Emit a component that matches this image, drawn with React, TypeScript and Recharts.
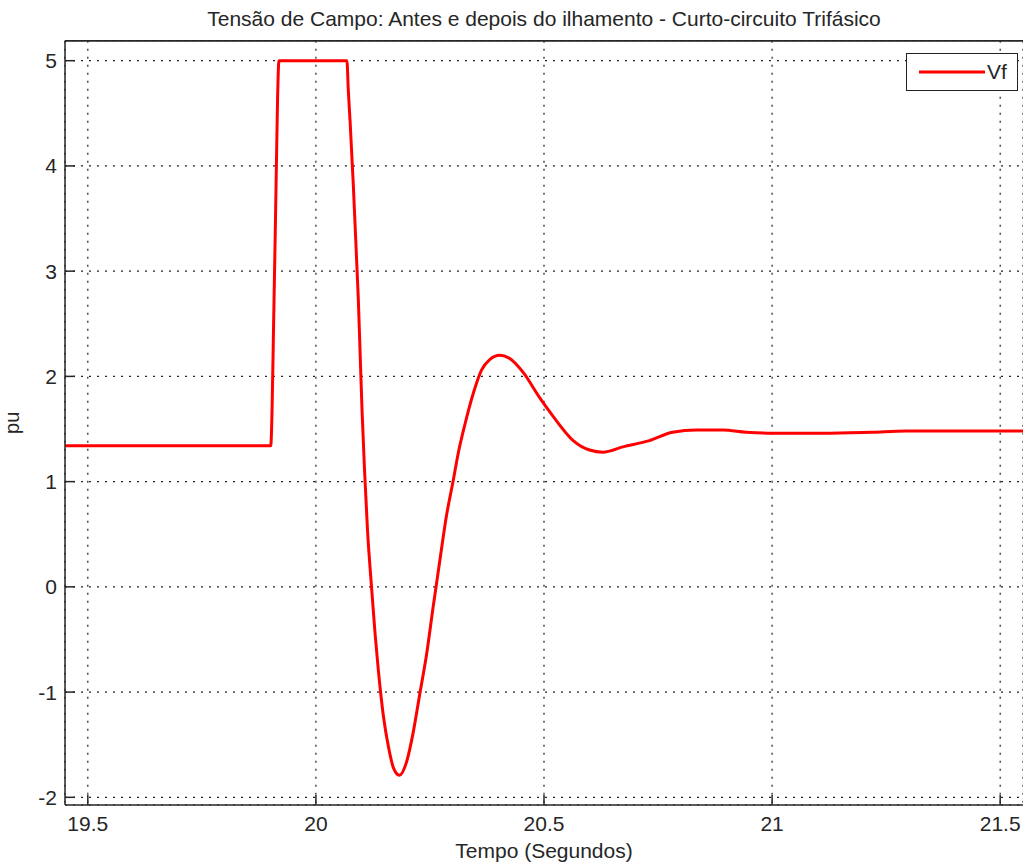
import { LineChart, Line, XAxis, YAxis, CartesianGrid, Label, ReferenceLine } from 'recharts';

const times = [
  19.45, 19.901, 19.904, 19.907, 19.91, 19.913, 19.916, 19.919, 20.068, 20.071,
  20.075, 20.082, 20.0895, 20.093, 20.0967, 20.1011, 20.1066, 20.1131, 20.1219, 20.1296,
  20.1368, 20.148, 20.159, 20.17, 20.183, 20.199, 20.213, 20.228, 20.243, 20.257,
  20.272, 20.286, 20.301, 20.312, 20.327, 20.345, 20.363, 20.381, 20.403, 20.425,
  20.454, 20.49, 20.52, 20.564, 20.6, 20.629, 20.673, 20.731, 20.782, 20.834,
  20.892, 20.943, 21.001, 21.111, 21.22, 21.293, 21.55,
];

const vf = [
  1.34, 1.34, 1.7, 2.43, 3.15, 3.9, 4.64, 5.0, 5.0, 4.72,
  4.42, 3.82, 3.08, 2.73, 2.25, 1.68, 1.11, 0.54, 0.0, -0.44,
  -0.79, -1.23, -1.52, -1.72, -1.79, -1.66, -1.39, -1.01, -0.63, -0.19,
  0.26, 0.67, 1.01, 1.27, 1.55, 1.84, 2.06, 2.16, 2.2, 2.17,
  2.04, 1.8, 1.62, 1.39, 1.3, 1.28, 1.33, 1.39, 1.47, 1.49,
  1.49, 1.47, 1.46, 1.46, 1.47, 1.48, 1.48,
];

const xTicks = [19.5, 20, 20.5, 21, 21.5];
const yTicks = [-2, -1, 0, 1, 2, 3, 4, 5];

const data = times.map((t, i) => ({ t, Vf: vf[i] }));

const ink = '#262626';
const font = '"Liberation Sans", Arial, sans-serif';

function LegendBox() {
  return (
    <div
      style={{
        position: 'absolute',
        left: 906,
        top: 53,
        width: 112,
        height: 38,
        boxSizing: 'border-box',
        border: '1.5px solid #222',
        background: '#fff',
        display: 'flex',
        alignItems: 'center',
        fontFamily: font,
        fontSize: 21,
        color: ink,
      }}
    >
      <svg width={80} height={10}>
        <line x1={12} y1={5} x2={78} y2={5} stroke="#ff0000" strokeWidth={3} />
      </svg>
      <span>Vf</span>
    </div>
  );
}

export default function App() {
  return (
    <div style={{ position: 'absolute', left: 0, top: 0, width: 1023, height: 863, fontFamily: font }}>
      <LineChart width={1023} height={863} data={data} margin={{ top: 39.7, right: 0, bottom: 0, left: 0 }}>
        <CartesianGrid stroke="#222" strokeDasharray="2 6" strokeWidth={1.2} />
        <XAxis
          dataKey="t"
          type="number"
          domain={[19.45, 21.55]}
          allowDataOverflow
          ticks={xTicks}
          height={58}
          tickSize={-10}
          tickMargin={21}
          stroke={ink}
          strokeWidth={1.5}
          tick={{ fill: ink, fontSize: 21, fontFamily: font }}
        >
          <Label value="Tempo (Segundos)" position="insideBottom" offset={5} fill={ink} fontSize={21} fontFamily={font} />
        </XAxis>
        <XAxis
          xAxisId="top"
          dataKey="t"
          type="number"
          orientation="top"
          domain={[19.45, 21.55]}
          allowDataOverflow
          ticks={xTicks}
          height={1}
          tickSize={-10}
          tick={false}
          stroke={ink}
          strokeWidth={1.5}
        >
          <Label
            value="Tensão de Campo: Antes e depois do ilhamento - Curto-circuito Trifásico"
            position="top"
            offset={14}
            fill={ink}
            fontSize={21}
            fontFamily={font}
          />
        </XAxis>
        <YAxis
          type="number"
          domain={[-2.073, 5.19]}
          allowDataOverflow
          ticks={yTicks}
          width={65}
          tickSize={-10}
          tickMargin={18}
          stroke={ink}
          strokeWidth={1.5}
          tick={{ fill: ink, fontSize: 21, fontFamily: font }}
        >
          <Label value="pu" angle={-90} position="insideLeft" offset={12} fill={ink} fontSize={20} fontFamily={font} style={{ textAnchor: 'middle' }} />
        </YAxis>
        <ReferenceLine y={5.19} stroke={ink} strokeWidth={1.5} ifOverflow="visible" />
        <Line
          type="monotone"
          dataKey="Vf"
          stroke="#ff0000"
          strokeWidth={3}
          dot={false}
          isAnimationActive={false}
        />
      </LineChart>
      <LegendBox />
    </div>
  );
}
